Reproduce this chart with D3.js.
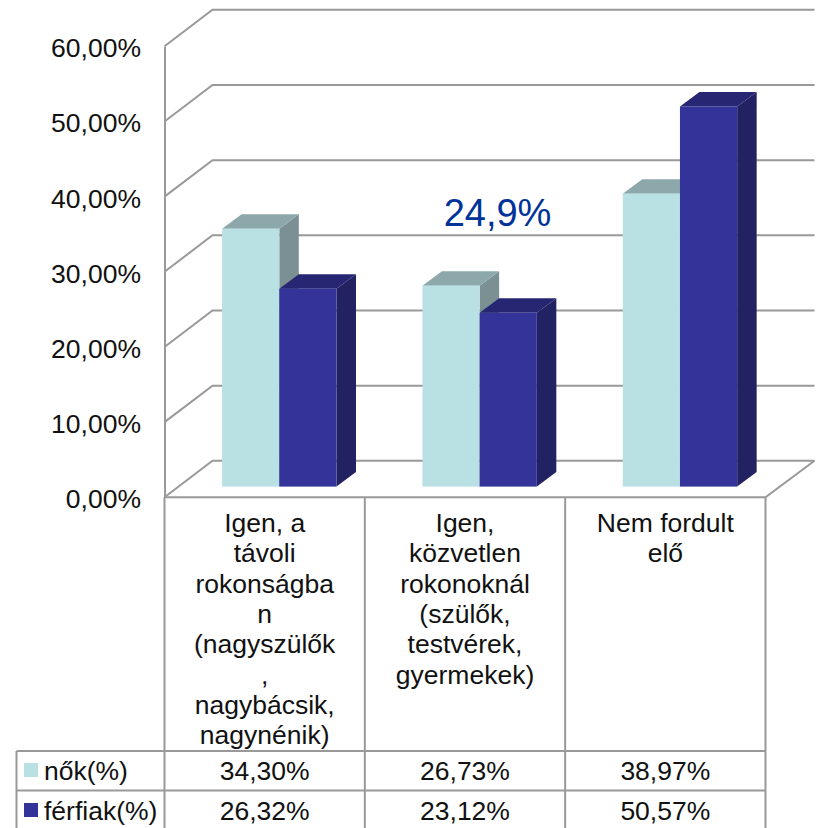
<!DOCTYPE html>
<html>
<head>
<meta charset="utf-8">
<script src="https://cdn.jsdelivr.net/npm/d3@7"></script>
<style>
  html, body { margin: 0; padding: 0; background: #fff; overflow: hidden; }
  text { font-family: "Liberation Sans", Arial, sans-serif; fill: #111; }
</style>
</head>
<body>
<svg id="chart" width="817" height="828"></svg>
<script>
const categories = ['Igen, a távoli', 'Igen, közvetlen', 'Nem fordult elő'];
const categoryLines = [
    ['Igen, a', 'távoli', 'rokonságba', 'n', '(nagyszülők', ',', 'nagybácsik,', 'nagynénik)'],
    ['Igen,', 'közvetlen', 'rokonoknál', '(szülők,', 'testvérek,', 'gyermekek)'],
    ['Nem fordult', 'elő']
];
const seriesNames = ['nők(%)', 'férfiak(%)'];
const nok = [34.30, 26.73, 38.97];
const ferfiak = [26.32, 23.12, 50.57];
const yTicks = [0, 10, 20, 30, 40, 50, 60];
const annotation = '24,9%';

const svg = d3.select('#chart');

const gridColor = '#999';
const colors = {
    'nők(%)': { front: '#b9e0e3', top: '#8da8ab', side: '#7a9093' },
    'férfiak(%)': { front: '#333399', top: '#262673', side: '#222263' }
};

// plot geometry, depth is the oblique offset of the back wall
const plotLeft = 164.5, plotRight = 765.5;
const depthX = 48, depthY = 36.5;
const barDepthX = 19.5, barDepthY = 14.5;
const barBase = 10.7;   // bars stand this far up the floor

const y = d3.scaleLinear().domain([0, 60]).range([497.3, 46.3]);
const xCat = d3.scaleBand().domain(categories).range([plotLeft, plotRight]);
const xSeries = d3.scaleBand().domain(seriesNames).range([57.6, 172]);

const fmt = d3.formatLocale({ decimal: ',', thousands: '.', grouping: [3], currency: ['', ''] });
const pct = v => fmt.format('.2f')(v) + '%';

// walls and floor
const walls = svg.append('g')
    .attr('fill', 'none')
    .attr('stroke', gridColor)
    .attr('stroke-width', 2);

yTicks.forEach(t => {
    walls.append('path')
        .attr('d', d3.line()([
            [plotLeft, y(t)],
            [plotLeft + depthX, y(t) - depthY],
            [plotRight + depthX + 1, y(t) - depthY]
        ]));
});

walls.append('path')
    .attr('d', d3.line()([
        [plotLeft, y(0)],
        [plotRight, y(0)],
        [plotRight + depthX + 1, y(0) - depthY]
    ]));

// left axis
const yAxis = d3.axisLeft(y)
    .tickValues(yTicks)
    .tickSize(0)
    .tickPadding(23.5)
    .tickFormat(pct);

const axisGroup = svg.append('g')
    .attr('transform', `translate(${plotLeft}, 0)`)
    .call(yAxis);

axisGroup.select('.domain')
    .attr('stroke', gridColor)
    .attr('stroke-width', 2);

axisGroup.selectAll('text')
    .style('font-size', '26.5px')
    .attr('dy', '10.4px');

// bars
const bars = categories.map((c, i) => [
    { cat: c, name: seriesNames[0], value: nok[i] },
    { cat: c, name: seriesNames[1], value: ferfiak[i] }
]).flat();

const barGroup = svg.append('g');

bars.forEach(d => {
    const x0 = xCat(d.cat) + xSeries(d.name);
    const x1 = x0 + xSeries.bandwidth();
    const bottom = y(0) - barBase;
    const top = bottom - (y(0) - y(d.value));
    const c = colors[d.name];

    barGroup.append('path')
        .attr('fill', c.side)
        .attr('d', d3.line()([
            [x1, top], [x1 + barDepthX, top - barDepthY],
            [x1 + barDepthX, bottom - barDepthY], [x1, bottom]
        ]));

    barGroup.append('path')
        .attr('fill', c.top)
        .attr('d', d3.line()([
            [x0, top], [x0 + barDepthX, top - barDepthY],
            [x1 + barDepthX, top - barDepthY], [x1, top]
        ]));

    barGroup.append('rect')
        .attr('x', x0)
        .attr('y', top)
        .attr('width', x1 - x0)
        .attr('height', bottom - top)
        .attr('fill', c.front);
});

// annotation over the chart
svg.append('text')
    .attr('x', 497.5)
    .attr('y', 226)
    .attr('text-anchor', 'middle')
    .style('font-size', '38px')
    .style('fill', '#003399')
    .text(annotation);

// data table under the plot
const tableLeft = 16.5, tableHeader = 751, rowLine = 790.5;
const table = svg.append('g');
const tableLines = table.append('g')
    .attr('stroke', gridColor)
    .attr('stroke-width', 2);

const colEdges = [plotLeft].concat(categories.map(c => xCat(c) + xCat.bandwidth()));
colEdges.forEach(x => {
    tableLines.append('line')
        .attr('x1', x).attr('x2', x)
        .attr('y1', y(0)).attr('y2', 828);
});
tableLines.append('line')
    .attr('x1', tableLeft).attr('x2', tableLeft)
    .attr('y1', tableHeader).attr('y2', 828);
[tableHeader, rowLine].forEach(ly => {
    tableLines.append('line')
        .attr('x1', tableLeft).attr('x2', plotRight)
        .attr('y1', ly).attr('y2', ly);
});

categories.forEach((c, i) => {
    categoryLines[i].forEach((line, j) => {
        table.append('text')
            .attr('x', xCat(c) + xCat.bandwidth() / 2)
            .attr('y', 532 + j * 30.3)
            .attr('text-anchor', 'middle')
            .style('font-size', '26.5px')
            .text(line);
    });
});

[nok, ferfiak].forEach((vals, r) => {
    const baseline = 780 + r * 40;

    table.append('rect')
        .attr('x', 24)
        .attr('y', 763 + r * 40)
        .attr('width', 14)
        .attr('height', 14)
        .attr('fill', colors[seriesNames[r]].front);

    table.append('text')
        .attr('x', 44)
        .attr('y', baseline)
        .style('font-size', '26.5px')
        .text(seriesNames[r]);

    vals.forEach((v, i) => {
        table.append('text')
            .attr('x', xCat(categories[i]) + xCat.bandwidth() / 2)
            .attr('y', baseline)
            .attr('text-anchor', 'middle')
            .style('font-size', '26.5px')
            .text(pct(v));
    });
});
</script>
</body>
</html>
